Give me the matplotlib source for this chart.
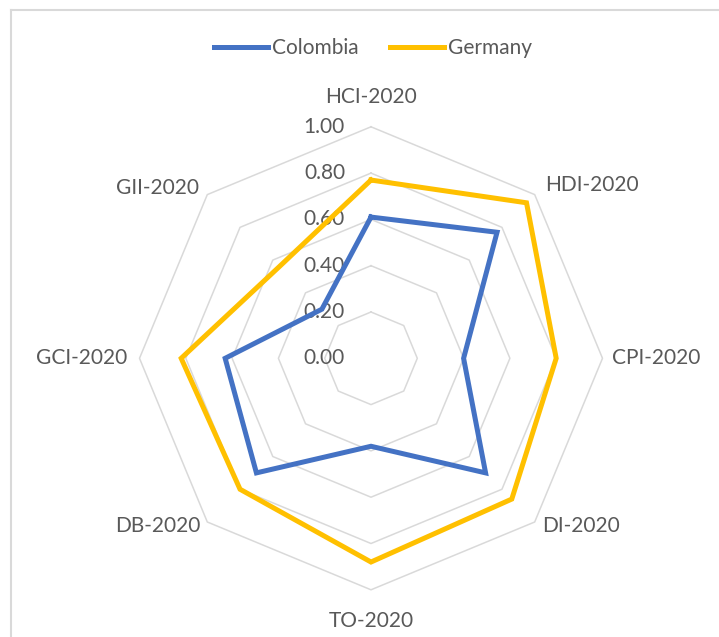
import numpy as np
import matplotlib
matplotlib.use("Agg")
import matplotlib.pyplot as plt
from matplotlib.lines import Line2D

# ── data ──────────────────────────────────────────────────────────────────
categories = ["HCI-2020", "HDI-2020", "CPI-2020", "DI-2020",
              "TO-2020", "DB-2020", "GCI-2020", "GII-2020"]
colombia = [0.61, 0.77, 0.40, 0.70, 0.38, 0.70, 0.63, 0.30]
germany  = [0.77, 0.95, 0.80, 0.86, 0.88, 0.80, 0.82, 0.56]
ring_levels = [0.0, 0.2, 0.4, 0.6, 0.8, 1.0]

# ── style ─────────────────────────────────────────────────────────────────
BLUE = "#4472C4"
GOLD = "#FFC000"
GRID = "#D9D9D9"
INK  = "#595959"
FONT = "Lato"
FS   = 15

W, H = 719, 637
CX, CY, R = 371, 358.3, 231.5     # centre and unit radius, pixels

plt.rcParams["font.family"] = [FONT, "DejaVu Sans"]

fig = plt.figure(figsize=(W / 100, H / 100), dpi=100, facecolor="white")
ax = fig.add_axes([0, 0, 1, 1])
ax.set_xlim(-CX / R, (W - CX) / R)
ax.set_ylim(-(H - CY) / R, CY / R)
ax.set_aspect("auto")
ax.axis("off")

n = len(categories)
theta = np.deg2rad(90 - 45 * np.arange(n))   # clockwise from the top
ux, uy = np.cos(theta), np.sin(theta)


def closed(vals):
    v = np.asarray(vals, dtype=float)
    xs, ys = v * ux, v * uy
    return np.append(xs, xs[0]), np.append(ys, ys[0])


# octagonal rings
for lvl in ring_levels[1:]:
    xs, ys = closed([lvl] * n)
    ax.plot(xs, ys, color=GRID, linewidth=1.1, zorder=1)

# value labels up the top spoke
for lvl in ring_levels:
    ax.annotate(f"{lvl:.2f}", (0, lvl), xytext=(-26 / 1.389, 0),
                textcoords="offset points", ha="right", va="center",
                fontsize=FS, color=INK, zorder=2)

# series
for vals, col, name in [(colombia, BLUE, "Colombia"), (germany, GOLD, "Germany")]:
    xs, ys = closed(vals)
    ax.plot(xs, ys, color=col, linewidth=3.6, solid_joinstyle="miter",
            label=name, zorder=3)

# category labels: (ha, dx px, dy px) from each outer vertex
label_pos = [("center", 0, 30), ("left", 10, 10), ("left", 10, 0),
             ("left", 7, -4), ("center", 0, -31), ("right", -7, -4),
             ("right", -12, 0), ("right", -8, 7)]
for i, (ha, dx, dy) in enumerate(label_pos):
    ax.annotate(categories[i], (ux[i], uy[i]), xytext=(dx / 1.389, dy / 1.389),
                textcoords="offset points", ha=ha, va="center",
                fontsize=FS, color=INK)

leg = fig.legend(loc="center", bbox_to_anchor=(373 / W, 1 - 48 / H), ncol=2,
                 frameon=False, fontsize=FS, handlelength=2.6,
                 handletextpad=0.2, columnspacing=1.5)
for t in leg.get_texts():
    t.set_color(INK)

# chart area border (left and top edges fall inside the canvas)
fig.add_artist(Line2D([11 / W, 11 / W], [0, 1 - 10 / H], color=GRID,
                      linewidth=1.5, transform=fig.transFigure))
fig.add_artist(Line2D([11 / W, 1], [1 - 10 / H, 1 - 10 / H], color=GRID,
                      linewidth=1.5, transform=fig.transFigure))

fig.savefig("out.png", dpi=100, facecolor="white")
